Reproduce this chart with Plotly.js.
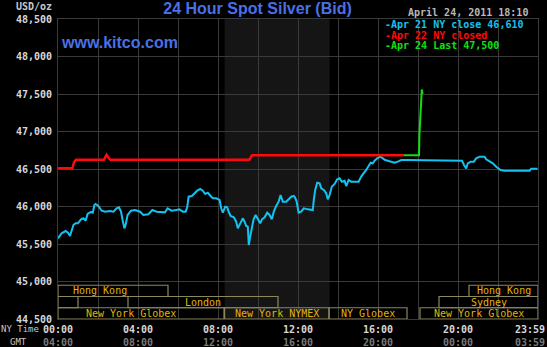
<!DOCTYPE html>
<html>
<head>
<meta charset="utf-8">
<script src="https://cdn.plot.ly/plotly-3.0.1.min.js"></script>
<style>
html,body{margin:0;padding:0;background:#000;}
#chart{width:547px;height:347px;}
</style>
</head>
<body>
<div id="chart"></div>
<script>
// ---- data ----
const apr21Hours = [0.00,0.10,0.18,0.38,0.50,0.60,0.70,0.77,0.88,1.00,1.15,1.27,1.38,1.48,1.65,1.74,1.82,1.88,2.02,2.18,2.35,2.60,2.77,2.93,3.05,3.15,3.23,3.32,3.38,3.48,3.65,3.85,4.10,4.27,4.52,4.72,4.93,5.18,5.35,5.48,5.68,5.93,6.07,6.24,6.38,6.46,6.53,6.69,6.83,6.96,7.11,7.24,7.36,7.49,7.63,7.74,7.91,8.08,8.16,8.24,8.36,8.46,8.53,8.63,8.79,8.91,8.99,9.11,9.24,9.33,9.41,9.49,9.54,9.61,9.69,9.78,9.88,9.99,10.11,10.20,10.33,10.46,10.58,10.69,10.79,10.91,11.03,11.13,11.24,11.41,11.53,11.66,11.79,11.85,11.93,11.98,12.03,12.16,12.29,12.49,12.74,12.79,12.86,12.96,13.08,13.16,13.29,13.41,13.49,13.58,13.69,13.83,13.96,14.08,14.19,14.33,14.41,14.53,14.66,14.83,15.03,15.16,15.29,15.41,15.53,15.63,15.74,15.83,15.96,16.11,16.24,16.36,16.49,16.66,16.83,16.99,17.16,17.50,18.00,19.00,20.08,20.20,20.30,20.41,20.49,20.63,20.79,20.91,21.08,21.33,21.41,21.53,21.74,21.91,22.13,22.33,23.58,23.66,23.98];
const apr21Values = [45576,45610,45643,45673,45650,45607,45700,45753,45776,45776,45829,45843,45811,45900,45927,45918,46020,46033,46007,45944,45931,45940,45931,45976,45989,45931,45820,45709,45753,45887,45944,45953,45931,45887,45896,45953,45931,45931,45922,45976,45944,45953,45962,45931,45931,45989,46131,46140,46176,46211,46233,46211,46167,46184,46140,46109,46109,46087,45976,45918,45998,45989,45931,45873,45856,45798,45709,45767,45842,45798,45740,45731,45487,45598,45687,45829,45887,45829,45776,45829,45856,45918,45887,45829,45931,46007,46064,46153,46064,46064,46096,46131,46140,46120,46070,45976,45918,45931,45976,45962,45953,46087,46220,46318,46309,46242,46220,46176,46096,46153,46264,46300,46362,46376,46331,46344,46273,46353,46331,46331,46331,46398,46442,46487,46540,46584,46576,46611,46642,46664,46642,46620,46611,46598,46584,46598,46620,46620,46620,46620,46620,46611,46553,46509,46576,46598,46598,46642,46664,46664,46629,46611,46576,46531,46487,46478,46478,46504,46504];

const apr22Hours  = [0, 0.72, 0.80, 0.90, 2.30, 2.43, 2.55, 2.62, 9.57, 9.70, 17.30];
const apr22Values = [46510, 46510, 46590, 46625, 46625, 46690, 46640, 46625, 46625, 46682, 46682];

const apr24Hours  = [17.30, 18.05, 18.07, 18.10, 18.13, 18.16, 18.19, 18.21, 18.23];
const apr24Values = [46682, 46682, 46950, 47130, 47290, 47450, 47560, 47530, 47500];

const seriesNames = ["Apr 21 NY close 46,610", "Apr 22 NY closed", "Apr 24 Last 47,500"];

const nyTickHours  = [0, 4, 8, 12, 16, 20, 23.983];
const nyTickLabels = ["00:00","04:00","08:00","12:00","16:00","20:00","23:59"];
const gmtTickLabels = ["04:00","08:00","12:00","16:00","20:00","00:00","03:59"];

const sessionNames = ["Hong Kong","Hong Kong","","London","Sydney","New York Globex","New York NYMEX","NY Globex","New York Globex"];
const sessionOpen  = [-1.3, 20.55, -5.0, 3.5, 19.05, -1.0, 8.33, 13.55, 18.1];
const sessionClose = [5.5, 27.0, 1.0, 11.0, 25.0, 8.3, 13.55, 17.45, 30.0];
const sessionRow   = [0, 0, 1, 1, 1, 2, 2, 2, 2];

const nymexHours = [8.33, 13.58];

// ---- styles ----
const MONO = "DejaVu Sans Mono";
const SANS = "Liberation Sans, Arial, sans-serif";
const BLUE = "#4a70e6";
const CYAN = "#14c2f0";
const RED = "#ff0a0a";
const GREEN = "#10e010";
const GRID = "#3a3a3a";
const GOLD = "#e2b40a";
const BOX = "#8c885c";

const traces = [
  {x: apr21Hours, y: apr21Values, name: seriesNames[0], mode: "lines", line: {color: CYAN, width: 2}},
  {x: apr22Hours, y: apr22Values, name: seriesNames[1], mode: "lines", line: {color: RED, width: 2.5}},
  {x: apr24Hours, y: apr24Values, name: seriesNames[2], mode: "lines", line: {color: GREEN, width: 2}}
];
const legendColors = [CYAN, RED, GREEN];

const shapes = [{
  type: "rect", xref: "x", yref: "paper", x0: nymexHours[0], x1: nymexHours[1], y0: 0, y1: 1,
  fillcolor: "#151515", line: {width: 0}, layer: "below"
}];
const annotations = [];

// session boxes
const rowTop = 44950, rowH = 150;
sessionNames.forEach((nm, i) => {
  const x0 = Math.max(sessionOpen[i], 0), x1 = Math.min(sessionClose[i], 24);
  const yTop = rowTop - sessionRow[i] * rowH, yBot = yTop - rowH;
  shapes.push({type: "rect", xref: "x", yref: "y", x0: x0, x1: x1, y0: yBot, y1: yTop,
    line: {color: BOX, width: 1.2}, fillcolor: "rgba(0,0,0,0)", layer: "above"});
  const c = (sessionOpen[i] + Math.min(sessionClose[i], 24)) / 2;
  if (nm && c > 0) {
    annotations.push({xref: "x", yref: "y", x: c, y: (yTop + yBot) / 2, text: nm, showarrow: false,
      xanchor: "center", yanchor: "middle", font: {family: MONO, size: 10, color: GOLD}});
  }
});

// x tick labels (NY time / GMT)
nyTickHours.forEach((h, i) => {
  const shift = (i === nyTickHours.length - 1) ? -8 : 0;
  annotations.push({xref: "x", yref: "paper", x: h, y: 0, yanchor: "middle", xanchor: "center",
    yshift: -10, xshift: shift, text: nyTickLabels[i], showarrow: false,
    font: {family: MONO, size: 10, color: "#d8d8d8", weight: "bold"}});
  annotations.push({xref: "x", yref: "paper", x: h, y: 0, yanchor: "middle", xanchor: "center",
    yshift: -23, xshift: shift, text: gmtTickLabels[i], showarrow: false,
    font: {family: MONO, size: 10, color: "#7a7a7a", weight: "bold"}});
});
annotations.push({xref: "paper", yref: "paper", x: 0, y: 0, xanchor: "right", yanchor: "middle",
  xshift: -17, yshift: -10, text: "NY Time", showarrow: false, font: {family: MONO, size: 9, color: "#c8c8c8"}});
annotations.push({xref: "paper", yref: "paper", x: 0, y: 0, xanchor: "center", yanchor: "middle",
  xshift: -40, yshift: -23, text: "GMT", showarrow: false, font: {family: MONO, size: 9, color: "#c8c8c8"}});

// legend (as text)
seriesNames.forEach((nm, i) => {
  annotations.push({xref: "paper", yref: "paper", x: 0, y: 1, xanchor: "left", yanchor: "middle",
    xshift: 325, yshift: -5.5 - i * 10.5, text: "-" + nm, showarrow: false,
    font: {family: MONO, size: 10, color: legendColors[i], weight: "bold"}});
});

// header texts
annotations.push({xref: "paper", yref: "paper", x: 0, y: 1, xanchor: "right", yanchor: "middle",
  xshift: -4, yshift: 12.5, text: "USD/oz", showarrow: false, font: {family: MONO, size: 10, color: "#c8c8c8", weight: "bold"}});
annotations.push({xref: "paper", yref: "paper", x: 1, y: 1, xanchor: "right", yanchor: "middle",
  xshift: -8, yshift: 6.5, text: "April 24, 2011 18:10", showarrow: false, font: {family: MONO, size: 10, color: "#b8b8b8", weight: "bold"}});
annotations.push({xref: "paper", yref: "paper", x: 0, y: 1, xanchor: "left", yanchor: "middle",
  xshift: 1, yshift: -23, text: "www.kitco.com", showarrow: false, font: {family: SANS, size: 16, color: BLUE, weight: "bold"}});

const layout = {
  width: 547, height: 347,
  paper_bgcolor: "#000", plot_bgcolor: "#000",
  margin: {l: 58, r: 9, t: 19, b: 28, pad: 0},
  showlegend: false,
  title: {text: "24 Hour Spot Silver (Bid)", xref: "container", x: 257.5 / 547, xanchor: "center",
    yref: "container", y: 1 - 8.5 / 347, yanchor: "middle",
    font: {family: SANS, size: 16, color: BLUE, weight: "bold"}},
  xaxis: {range: [0, 24], tick0: 0, dtick: 2, showticklabels: false, ticks: "",
    showgrid: true, gridcolor: GRID, gridwidth: 1, zeroline: false,
    showline: true, linecolor: GRID, linewidth: 1, mirror: true, fixedrange: true},
  yaxis: {range: [44500, 48500], tick0: 44500, dtick: 500, tickformat: ",.0f", ticks: "",
    ticklabelstandoff: 3,
    tickfont: {family: MONO, size: 10, color: "#d8d8d8", weight: "bold"},
    showgrid: true, gridcolor: GRID, gridwidth: 1, zeroline: false,
    showline: true, linecolor: GRID, linewidth: 1, mirror: true, fixedrange: true},
  shapes: shapes,
  annotations: annotations
};

Plotly.newPlot("chart", traces, layout, {displayModeBar: false, staticPlot: true});
</script>
</body>
</html>
